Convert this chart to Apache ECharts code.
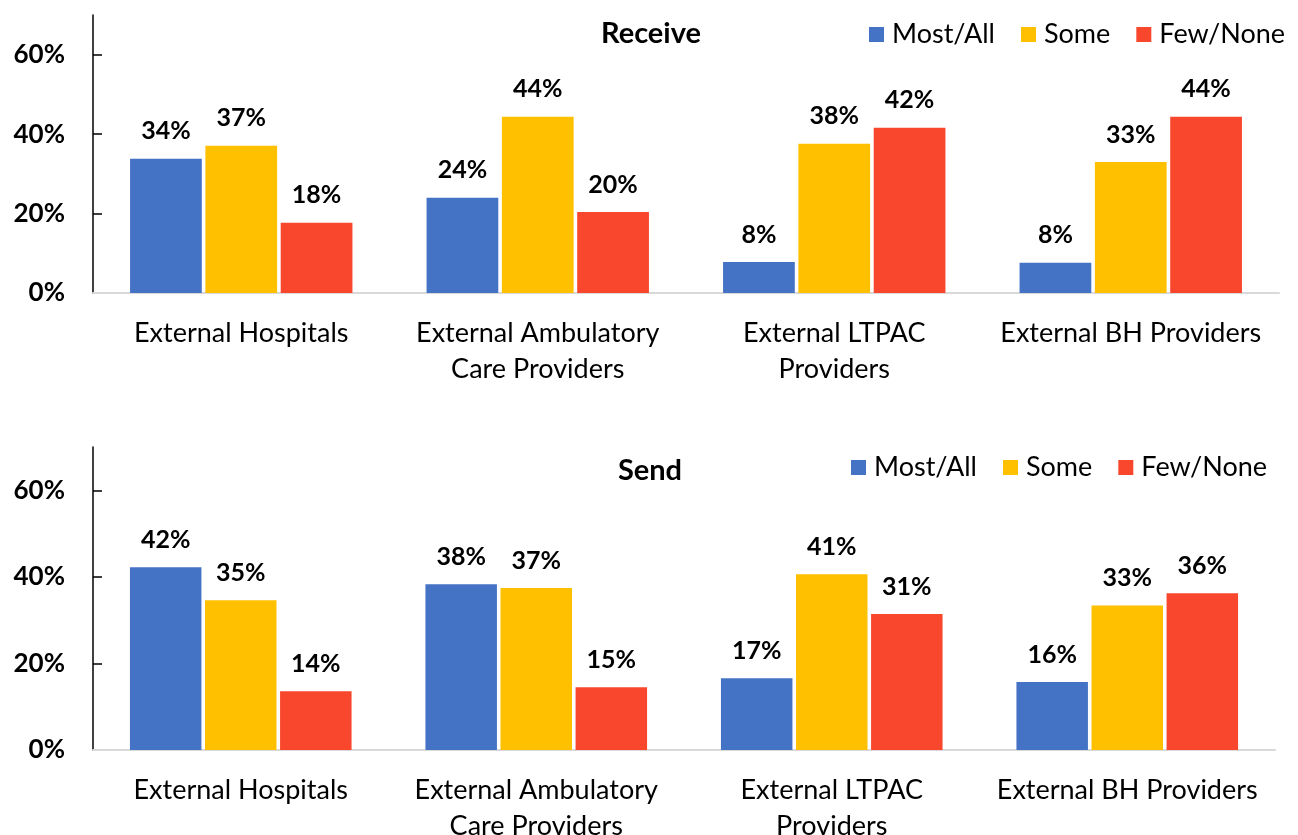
<!DOCTYPE html>
<html>
<head>
<meta charset="utf-8">
<title>Receive / Send</title>
<script src="https://cdn.jsdelivr.net/npm/echarts@6/dist/echarts.min.js"></script>
<style>
  html, body { margin: 0; padding: 0; background: #fff; }
  #chart { width: 1298px; height: 835px; }
</style>
</head>
<body>
<div id="chart"></div>
<script>
// categories and series (percent of respondents)
const categories = [
  'External Hospitals',
  'External Ambulatory\nCare Providers',
  'External LTPAC\nProviders',
  'External BH Providers'
];
const seriesNames = ['Most/All', 'Some', 'Few/None'];
const colors = ['#4472C4', '#FFC000', '#F9472D'];

const receiveMostAll = [33.8, 24.0, 7.8, 7.6];
const receiveSome = [37.1, 44.4, 37.6, 33.0];
const receiveFewNone = [17.7, 20.4, 41.6, 44.4];

const sendMostAll = [42.2, 38.3, 16.6, 15.7];
const sendSome = [34.6, 37.4, 40.6, 33.4];
const sendFewNone = [13.6, 14.5, 31.4, 36.2];

const yLabelValues = [0, 20, 40, 60];
const yTickValues = [20, 40, 60];

const FONT = 'Lato';

const chart = echarts.init(document.getElementById('chart'));

function xAxisFor(gridIndex) {
  return {
    type: 'category',
    gridIndex: gridIndex,
    data: categories,
    axisLine: { lineStyle: { color: '#d9d9d9', width: 2 } },
    axisTick: { show: false },
    axisLabel: {
      interval: 0,
      color: '#000',
      fontFamily: FONT,
      fontSize: 27,
      lineHeight: 36,
      margin: 22
    }
  };
}

function yAxisFor(gridIndex) {
  return {
    type: 'value',
    gridIndex: gridIndex,
    min: 0,
    max: 70,
    interval: 10,
    splitLine: { show: false },
    axisLine: { show: true, lineStyle: { color: '#000', width: 1.5 } },
    axisTick: {
      show: true,
      inside: true,
      length: 9,
      lineStyle: { color: '#000', width: 1.5 },
      customValues: yTickValues
    },
    axisLabel: {
      color: '#000',
      fontFamily: FONT,
      fontWeight: 'bold',
      fontSize: 26,
      margin: 28,
      formatter: v => v + '%',
      customValues: yLabelValues
    }
  };
}

function barSeries(name, data, idx, axisIndex) {
  return {
    name: name,
    type: 'bar',
    xAxisIndex: axisIndex,
    yAxisIndex: axisIndex,
    data: data,
    barGap: '5%',
    barCategoryGap: '25%',
    itemStyle: { color: colors[idx] },
    label: {
      show: true,
      position: 'top',
      distance: 15,
      color: '#000',
      fontFamily: FONT,
      fontWeight: 'bold',
      fontSize: 25,
      formatter: p => Math.round(p.value) + '%'
    }
  };
}

function legendAt(left, top) {
  return {
    left: left,
    top: top,
    itemWidth: 15,
    itemHeight: 15,
    itemGap: 26,
    icon: 'rect',
    data: seriesNames,
    textStyle: { fontFamily: FONT, fontSize: 27, color: '#000', padding: [0, 0, 0, 3] }
  };
}

chart.setOption({
  animation: false,
  color: colors,
  title: [
    { text: 'Receive', left: 646, top: 14, textAlign: 'center',
      textStyle: { fontFamily: FONT, fontWeight: 'bold', fontSize: 29, color: '#000' } },
    { text: 'Send', left: 645, top: 451, textAlign: 'center',
      textStyle: { fontFamily: FONT, fontWeight: 'bold', fontSize: 29, color: '#000' } }
  ],
  legend: [legendAt(864, 16), legendAt(846, 449)],
  grid: [
    { left: 93, right: 19, top: 15, height: 278, outerBoundsMode: 'none' },
    { left: 93, right: 23, top: 447, height: 303, outerBoundsMode: 'none' }
  ],
  xAxis: [xAxisFor(0), xAxisFor(1)],
  yAxis: [yAxisFor(0), yAxisFor(1)],
  series: [
    barSeries(seriesNames[0], receiveMostAll, 0, 0),
    barSeries(seriesNames[1], receiveSome, 1, 0),
    barSeries(seriesNames[2], receiveFewNone, 2, 0),
    barSeries(seriesNames[0], sendMostAll, 0, 1),
    barSeries(seriesNames[1], sendSome, 1, 1),
    barSeries(seriesNames[2], sendFewNone, 2, 1)
  ]
});
</script>
</body>
</html>
